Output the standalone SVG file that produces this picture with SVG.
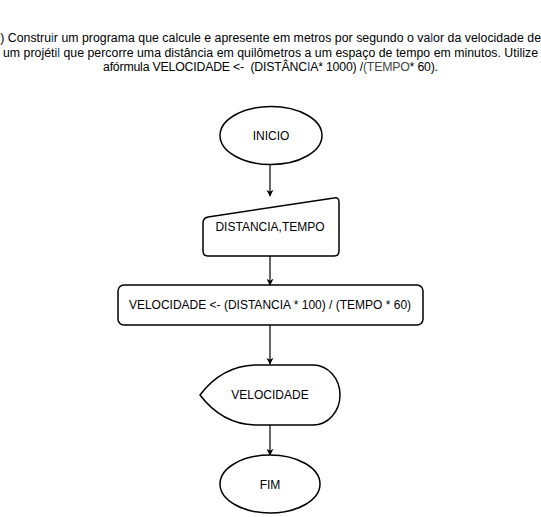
<svg xmlns="http://www.w3.org/2000/svg" width="541" height="517" viewBox="0 0 541 517">
<style>
.t{font-family:"Liberation Sans",Arial,sans-serif;font-size:12px;fill:#000;text-anchor:middle;white-space:pre}
.h{font-family:"Liberation Sans",Arial,sans-serif;font-size:12.3px;fill:#000;white-space:pre}
.s{fill:#fff;stroke:#000;stroke-width:1.5}
.c{fill:none;stroke:#000;stroke-width:1.2}
</style>
<defs>
<marker id="ar" viewBox="0 0 10 10" refX="9" refY="5" markerWidth="7" markerHeight="7" markerUnits="userSpaceOnUse" orient="auto">
<path d="M0,0 L10,5 L0,10 L3,5 Z" fill="#000"/>
</marker>
</defs>
<rect width="541" height="517" fill="#fff"/>
<g id="title">
<text class="h" x="-6" y="42" textLength="547" lengthAdjust="spacing">c) Constru<tspan fill="#1a3a7a">i</tspan>r um programa que calcule e apresente em metros por segundo o va<tspan fill="#1a3a7a">l</tspan>or da velocidade de</text>
<text class="h" x="3" y="57" textLength="535" lengthAdjust="spacing">um projéti<tspan fill="#1a3a7a">l</tspan> que percorre uma distância em quilômetros a um espaço de tempo em minutos. Utilize</text>
<text class="h" x="103" y="71" textLength="335" lengthAdjust="spacing">afórmula VELOCIDADE &lt;-  (DISTÂNC<tspan fill="#1a3a7a">I</tspan>A* 1000) /<tspan fill="#444">(TEMPO</tspan>* 60).</text>
</g>
<g id="connectors">
<line class="c" x1="270" y1="165" x2="270" y2="196" marker-end="url(#ar)"/>
<line class="c" x1="270" y1="256" x2="270" y2="285" marker-end="url(#ar)"/>
<line class="c" x1="270" y1="325" x2="270" y2="364" marker-end="url(#ar)"/>
<line class="c" x1="270" y1="425" x2="270" y2="455" marker-end="url(#ar)"/>
</g>
<g id="inicio">
<ellipse class="s" cx="271" cy="135.5" rx="51" ry="29"/>
<text class="t" x="271" y="140">INICIO</text>
</g>
<g id="entrada">
<path class="s" d="M208,217 L334,198 Q339,197 339,202 L339,251 Q339,256 334,256 L208,256 Q203,256 203,251 L203,223 Q203,218 208,217 Z"/>
<text class="t" x="270" y="231">DISTANCIA,TEMPO</text>
</g>
<g id="processo">
<rect class="s" x="118" y="285" width="305" height="40" rx="6"/>
<text class="t" x="270" y="309">VELOCIDADE &lt;- (DISTANCIA * 100) / (TEMPO * 60)</text>
</g>
<g id="saida">
<path class="s" d="M200,395 Q222,366 255,365 L313,365 A27,30 0 0 1 313,425 L255,425 Q222,424 200,395 Z"/>
<text class="t" x="270" y="399">VELOCIDADE</text>
</g>
<g id="fim">
<ellipse class="s" cx="270" cy="484" rx="50" ry="29"/>
<text class="t" x="270" y="489">FIM</text>
</g>
</svg>
